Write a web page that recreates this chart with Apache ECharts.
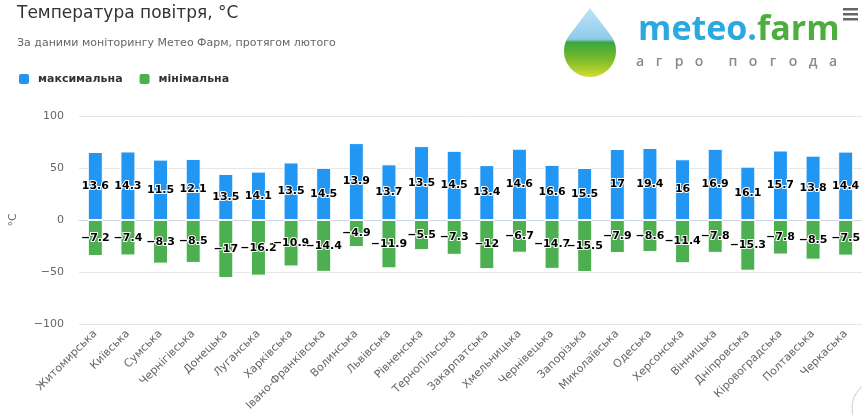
<!DOCTYPE html>
<html>
<head>
<meta charset="utf-8">
<script src="https://cdn.jsdelivr.net/npm/echarts@6/dist/echarts.min.js"></script>
<style>
html,body{margin:0;padding:0;background:#fff;}
#c{width:862px;height:415px;}
</style>
</head>
<body>
<div id="c"></div>
<script>
const categories = ["Житомирська","Київська","Сумська","Чернігівська","Донецька","Луганська","Харківська","Івано-Франківська","Волинська","Львівська","Рівненська","Тернопільська","Закарпатська","Хмельницька","Чернівецька","Запорізька","Миколаївська","Одеська","Херсонська","Вінницька","Дніпровська","Кіровоградська","Полтавська","Черкаська"];
const maxTemp = [13.6,14.3,11.5,12.1,13.5,14.1,13.5,14.5,13.9,13.7,13.5,14.5,13.4,14.6,16.6,15.5,17,19.4,16,16.9,16.1,15.7,13.8,14.4];
const minTemp = [-7.2,-7.4,-8.3,-8.5,-17,-16.2,-10.9,-14.4,-4.9,-11.9,-5.5,-7.3,-12,-6.7,-14.7,-15.5,-7.9,-8.6,-11.4,-7.8,-15.3,-7.8,-8.5,-7.5];
const yTicks = [-100,-50,0,50,100];

// percent stacking: each column spans 100 units split by share of |max| and |min|
const maxShare = maxTemp.map((v,i)=> v/(maxTemp[i]-minTemp[i])*100);
const minShare = minTemp.map((v,i)=> v/(maxTemp[i]-minTemp[i])*100);

const fmt = v => String(v).replace('-', '\u2212');
const FONT = '"DejaVu Sans", Verdana, sans-serif';

const chart = echarts.init(document.getElementById('c'), null, {renderer:'canvas'});

// logo decoration
const logoLetters = ['а','г','р','о','п','о','г','о','д','а'];
const logoX = [640,659,679,699,733,753,773,793,813,833];
const logoGraphics = logoLetters.map((ch,i)=>({
  type:'text', x: logoX[i], y: 62,
  style:{text:ch, fill:'#8a8a8a', font:'600 14px "Open Sans", sans-serif', align:'center', verticalAlign:'middle'}
}));
const dropPts = [[590,8]];
for (let a = 54; a <= 306; a += 6) {
  const r = a*Math.PI/180;
  dropPts.push([590 + 26*Math.sin(r), 51 - 26*Math.cos(r)]);
}

chart.setOption({
  animation:false,
  textStyle:{fontFamily:FONT},
  title:[
    {text:'Температура повітря, °C', left:12, top:0,
     textStyle:{fontSize:17, fontWeight:'normal', color:'#333', fontFamily:FONT}},
    {text:'За даними моніторингу Метео Фарм, протягом лютого', left:12, top:33,
     textStyle:{fontSize:11, fontWeight:'normal', color:'#666', fontFamily:FONT}}
  ],
  legend:{
    left:12, top:67, itemWidth:12, itemHeight:12, itemGap:15, icon:'roundRect',
    textStyle:{fontSize:11, fontWeight:'bold', color:'#333', fontFamily:FONT, padding:[0,0,0,3]},
    data:['максимальна','мінімальна']
  },
  grid:{left:77, right:0, top:116, bottom:91, containLabel:false},
  xAxis:{
    type:'category', data:categories,
    axisLine:{lineStyle:{color:'#ccd6eb'}},
    axisTick:{show:false},
    axisLabel:{interval:0, rotate:45, fontSize:11, color:'#666', fontFamily:FONT, margin:8}
  },
  yAxis:{
    type:'value', min:yTicks[0], max:yTicks[yTicks.length-1], interval:50,
    name:'°C', nameLocation:'middle', nameGap:60, nameRotate:90,
    nameTextStyle:{fontSize:11, color:'#666', fontFamily:FONT},
    axisLine:{show:false}, axisTick:{show:false},
    axisLabel:{fontSize:11, color:'#666', margin:15, fontFamily:FONT, formatter:v=>fmt(v)},
    splitLine:{lineStyle:{color:'#e6e6e6'}}
  },
  series:[
    {name:'максимальна', type:'bar', stack:'t', data:maxShare, barWidth:15,
     itemStyle:{color:'#2196f3', borderColor:'#fff', borderWidth:1},
     label:{show:true, position:'inside', formatter:p=>fmt(maxTemp[p.dataIndex]),
       fontSize:11, fontWeight:'bold', color:'#000', textBorderColor:'#fff', textBorderWidth:2, fontFamily:FONT}},
    {name:'мінімальна', type:'bar', stack:'t', data:minShare, barWidth:15,
     itemStyle:{color:'#4caf50', borderColor:'#fff', borderWidth:1},
     label:{show:true, position:'inside', formatter:p=>fmt(minTemp[p.dataIndex]),
       fontSize:11, fontWeight:'bold', color:'#000', textBorderColor:'#fff', textBorderWidth:2, fontFamily:FONT}}
  ],
  graphic:[
    {type:'polygon', shape:{points:dropPts},
     style:{fill:{type:'linear', x:0, y:0, x2:0, y2:1, colorStops:[
       {offset:0,color:'#bfe4f7'},{offset:0.45,color:'#8fcbe9'},{offset:0.5,color:'#3aa63e'},
       {offset:0.75,color:'#7dbb2a'},{offset:1,color:'#d3dc2e'}]}}},
    {type:'text', left:638, top:13,
     style:{text:'{b|meteo.}{g|farm}', rich:{
       b:{fill:'#2aa9e0', font:'bold 34px "Open Sans", sans-serif'},
       g:{fill:'#4bae3d', font:'bold 34px "Open Sans", sans-serif'}}}},
    ...logoGraphics,
    {type:'rect', shape:{x:843,y:8,width:15,height:2.5}, style:{fill:'#666'}},
    {type:'rect', shape:{x:843,y:13,width:15,height:2.5}, style:{fill:'#666'}},
    {type:'rect', shape:{x:843,y:18,width:15,height:2.5}, style:{fill:'#666'}},
    {type:'circle', shape:{cx:880, cy:408, r:28}, style:{fill:'none', stroke:'#ccc', lineWidth:1}}
  ]
});
</script>
</body>
</html>
